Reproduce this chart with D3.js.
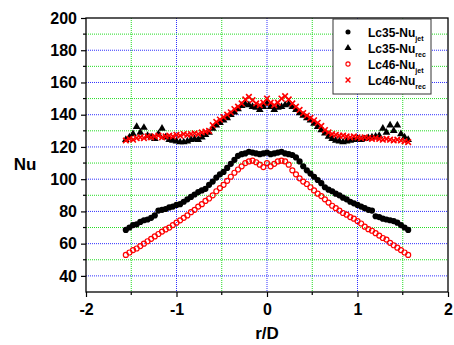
<!DOCTYPE html>
<html>
<head>
<meta charset="utf-8">
<script src="https://cdn.jsdelivr.net/npm/d3@7"></script>
<style>
  body { margin: 0; background: #fff; }
  text { font-family: Arial, "Liberation Sans", sans-serif; font-weight: bold; }
</style>
</head>
<body>
<svg id="chart" width="454" height="345"></svg>
<script>
// r/D positions shared by all four series
const rPos = [-1.56,-1.52,-1.48,-1.44,-1.40,-1.36,-1.32,-1.28,-1.24,-1.20,-1.16,-1.12,-1.08,-1.04,-1.00,
  -0.96,-0.92,-0.88,-0.84,-0.80,-0.76,-0.72,-0.68,-0.64,-0.60,-0.56,-0.52,-0.48,-0.44,-0.40,
  -0.36,-0.32,-0.28,-0.24,-0.20,-0.16,-0.12,-0.08,-0.04,0,
  0.04,0.08,0.12,0.16,0.20,0.24,0.28,0.32,0.36,0.40,0.44,0.48,0.52,0.56,0.60,
  0.64,0.68,0.72,0.76,0.80,0.84,0.88,0.92,0.96,1.00,1.04,1.08,1.12,1.16,1.20,
  1.24,1.28,1.32,1.36,1.40,1.44,1.48,1.52,1.56];

const lc35Jet = [68.5,70.0,71.5,72.0,73.5,74.5,75.0,76.0,77.5,80.5,81.0,81.5,82.5,83.0,84.0,
  84.5,86.0,87.5,89.0,90.5,92.0,93.0,94.0,96.5,98.5,101.0,103.0,104.5,107.0,109.5,
  112.0,114.5,115.5,116.0,117.0,116.5,116.0,115.5,116.0,116.5,
  115.5,116.0,116.5,117.0,116.0,115.5,115.0,113.5,111.0,108.0,105.5,103.5,101.5,99.5,97.5,
  95.0,93.5,92.5,91.0,90.0,88.5,87.5,86.0,85.0,84.0,83.0,82.0,81.0,80.5,77.0,
  76.5,75.5,75.0,74.5,74.0,73.0,71.5,70.0,68.5];

const lc35Rec = [124.5,126.0,128.0,132.5,129.0,132.0,127.0,126.0,125.0,128.0,131.5,126.0,124.5,124.0,123.5,
  123.0,123.0,123.5,124.5,125.0,124.5,126.0,127.5,129.0,131.5,133.5,135.0,136.5,138.0,140.0,
  141.5,143.5,145.5,146.5,146.0,145.0,144.5,143.0,145.0,147.0,
  145.0,143.0,144.5,145.0,146.0,146.5,145.0,143.0,141.0,139.5,138.0,136.5,134.5,132.5,130.5,
  128.5,126.5,125.0,124.0,123.5,123.0,123.5,124.0,124.5,125.0,124.5,125.0,125.5,126.0,126.5,
  127.0,131.5,129.0,133.5,130.0,133.5,128.0,126.0,124.5];

const lc46Jet = [53.0,54.5,56.0,57.0,58.5,60.0,61.5,63.0,64.5,66.0,67.5,68.8,70.0,71.5,73.0,
  74.5,76.0,77.5,79.5,81.0,83.0,84.5,86.5,88.0,90.0,92.5,94.5,96.5,99.0,101.5,
  104.0,106.0,108.0,110.0,111.0,111.5,110.5,109.0,107.5,110.0,
  108.0,109.5,111.0,111.5,111.0,109.0,105.5,103.0,100.5,98.5,97.0,95.0,93.0,91.0,89.5,
  87.5,85.5,83.5,82.0,80.5,79.0,78.0,76.5,75.5,74.0,72.5,70.5,69.0,68.0,66.5,
  65.0,63.5,62.5,60.5,59.0,57.5,56.0,54.5,53.0];

const lc46Rec = [124.0,125.0,124.5,125.5,126.0,125.5,126.5,126.0,126.5,127.0,126.0,126.5,127.0,126.5,127.5,
  127.0,128.0,127.5,128.0,128.5,128.0,129.0,129.5,130.0,133.5,135.5,137.0,138.5,140.0,141.5,
  143.5,145.0,147.0,149.5,151.0,149.0,147.0,146.0,147.5,150.0,
  147.5,146.0,147.5,150.0,151.5,149.5,147.0,145.0,143.0,141.0,139.5,138.0,136.5,135.0,133.0,
  130.5,129.0,128.0,127.5,127.0,127.0,126.5,126.0,126.5,126.0,125.5,126.0,125.5,125.0,125.5,
  125.0,124.5,125.0,124.5,124.0,124.5,124.0,123.5,123.0];

const seriesNames = ["Lc35-Nu", "Lc35-Nu", "Lc46-Nu", "Lc46-Nu"];
const seriesSubs = ["jet", "rec", "jet", "rec"];
const xTicks = [-2, -1, 0, 1, 2];
const xMinor = [-1.5, -0.5, 0.5, 1.5];
const yTicks = [40, 60, 80, 100, 120, 140, 160, 180, 200];
const yMinor = [50, 70, 90, 110, 130, 150, 170, 190];

const margin = {left: 86, right: 6, top: 18, bottom: 53};
const width = 454, height = 345;
const w = width - margin.left - margin.right;
const h = height - margin.top - margin.bottom;

const svg = d3.select("#chart");
const g = svg.append("g").attr("transform", `translate(${margin.left},${margin.top})`);

const x = d3.scaleLinear().domain([-2, 2]).range([0, w]);
const y = d3.scaleLinear().domain([30, 200]).range([h, 0]);

const major_color = "#3030ff";
const minor_color = "#22dd22";

// Grid
const grid = g.append("g").attr("id", "grid");
grid.selectAll(".vmaj").data(xTicks.slice(1, -1)).enter().append("line")
  .attr("x1", d => x(d)).attr("x2", d => x(d)).attr("y1", 0).attr("y2", h)
  .attr("stroke", major_color).attr("stroke-dasharray", "1,1");
grid.selectAll(".vmin").data(xMinor).enter().append("line")
  .attr("x1", d => x(d)).attr("x2", d => x(d)).attr("y1", 0).attr("y2", h)
  .attr("stroke", minor_color).attr("stroke-dasharray", "1,1");
grid.selectAll(".hmaj").data(yTicks.slice(0, -1)).enter().append("line")
  .attr("y1", d => y(d)).attr("y2", d => y(d)).attr("x1", 0).attr("x2", w)
  .attr("stroke", major_color).attr("stroke-dasharray", "1,1");
grid.selectAll(".hmin").data(yMinor).enter().append("line")
  .attr("y1", d => y(d)).attr("y2", d => y(d)).attr("x1", 0).attr("x2", w)
  .attr("stroke", minor_color).attr("stroke-dasharray", "1,1");

// Data
const pts = vals => rPos.map((r, i) => ({r, v: vals[i]}));
const symCircle = d3.symbol().type(d3.symbolCircle).size(30);
const symTri = d3.symbol().type(d3.symbolTriangle).size(26);
const symCircleLeg = d3.symbol().type(d3.symbolCircle).size(20);

const marks = g.append("g").attr("id", "marks");

marks.append("g").selectAll("path").data(pts(lc35Jet)).enter().append("path")
  .attr("d", symCircle).attr("transform", d => `translate(${x(d.r)},${y(d.v)})`)
  .attr("fill", "#000");

marks.append("g").selectAll("path").data(pts(lc35Rec)).enter().append("path")
  .attr("d", symTri).attr("transform", d => `translate(${x(d.r)},${y(d.v)})`)
  .attr("fill", "#000");

marks.append("g").selectAll("circle").data(pts(lc46Jet)).enter().append("circle")
  .attr("cx", d => x(d.r)).attr("cy", d => y(d.v)).attr("r", 2.5)
  .attr("fill", "none").attr("stroke", "#ff0000").attr("stroke-width", 1.2);

const xs = 2.8;
const xl = 2.4;
marks.append("g").selectAll("path").data(pts(lc46Rec)).enter().append("path")
  .attr("d", `M${-xs},${-xs}L${xs},${xs}M${-xs},${xs}L${xs},${-xs}`)
  .attr("transform", d => `translate(${x(d.r)},${y(d.v)})`)
  .attr("stroke", "#ff0000").attr("stroke-width", 1.6).attr("fill", "none");

// Axes
const yAxis = g.append("g")
  .call(d3.axisLeft(y).tickValues(yTicks).tickSize(5).tickPadding(4).tickFormat(d => d));
const xAxis = g.append("g").attr("transform", `translate(0,${h})`)
  .call(d3.axisBottom(x).tickValues(xTicks).tickSize(5).tickPadding(7).tickFormat(d => d));
[yAxis, xAxis].forEach(a => {
  a.select(".domain").remove();
  a.selectAll(".tick line").attr("stroke", "#000").attr("stroke-width", 1.2);
  a.selectAll("text").attr("fill", "#000").style("font-size", "16px").style("font-weight", "bold");
});

g.append("g").selectAll("line").data(yMinor).enter().append("line")
  .attr("x1", -3).attr("x2", 0).attr("y1", d => y(d)).attr("y2", d => y(d))
  .attr("stroke", "#000").attr("stroke-width", 1.2);
g.append("g").selectAll("line").data(xMinor).enter().append("line")
  .attr("y1", h).attr("y2", h + 3).attr("x1", d => x(d)).attr("x2", d => x(d))
  .attr("stroke", "#000").attr("stroke-width", 1.2);

// Frame
g.append("rect").attr("width", w).attr("height", h)
  .attr("fill", "none").attr("stroke", "#000").attr("stroke-width", 1.3);

// Axis titles
svg.append("text").attr("x", 25).attr("y", 170).attr("text-anchor", "middle")
  .style("font-size", "17px").text("Nu");
svg.append("text").attr("x", margin.left + x(0)).attr("y", 339).attr("text-anchor", "middle")
  .style("font-size", "17px").text("r/D");

// Legend
const legend = svg.append("g").attr("transform", "translate(333,19)");
legend.append("rect").attr("width", 98).attr("height", 75)
  .attr("fill", "#fff").attr("stroke", "#333").attr("stroke-width", 1);

const rowY = [13, 29, 45, 61];
const items = legend.selectAll(".item").data(seriesNames).enter().append("g")
  .attr("transform", (d, i) => `translate(15,${rowY[i]})`);

items.each(function(d, i) {
  const it = d3.select(this);
  if (i === 0) it.append("path").attr("d", symCircleLeg).attr("fill", "#000");
  if (i === 1) it.append("path").attr("d", d3.symbol().type(d3.symbolTriangle).size(22)).attr("fill", "#000");
  if (i === 2) it.append("circle").attr("r", 2.1).attr("fill", "none").attr("stroke", "#f00").attr("stroke-width", 1.1);
  if (i === 3) it.append("path").attr("d", `M${-xl},${-xl}L${xl},${xl}M${-xl},${xl}L${xl},${-xl}`)
    .attr("stroke", "#f00").attr("stroke-width", 1.4);
  const t = it.append("text").attr("x", 20).attr("y", 4.5).style("font-size", "12px");
  t.append("tspan").text(d);
  t.append("tspan").attr("dy", 4).style("font-size", "7px").text(seriesSubs[i]);
});
</script>
</body>
</html>
